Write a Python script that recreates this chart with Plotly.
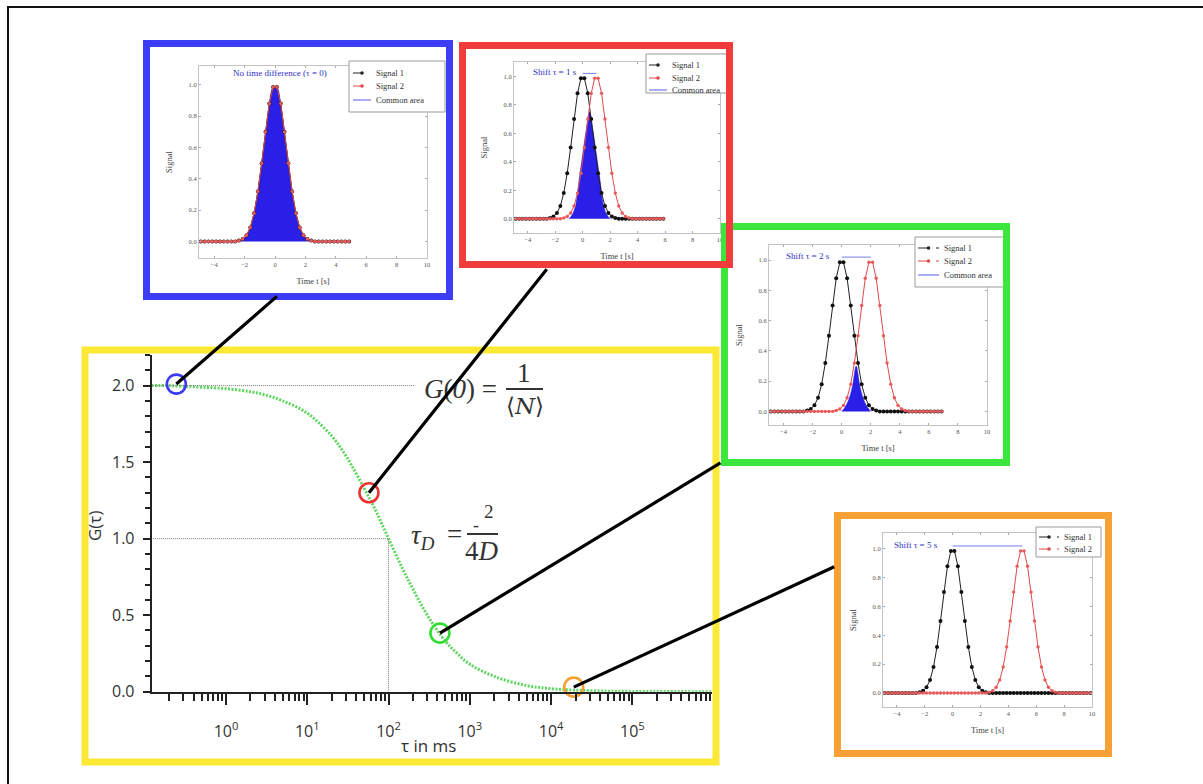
import math
import plotly.graph_objects as go

W, H = 1203, 784


def px(x):
    return x / W


def py(y):
    return 1 - y / H


# ---------------- main correlation curve ----------------
tau = [0.12, 0.2, 0.3, 0.5, 1, 2, 3, 5, 10, 20, 30, 50, 70, 100, 150, 200, 300,
       500, 700, 1000, 2000, 5000, 10000, 20000, 50000, 100000, 1000000]
g_tau = [2.0, 2.0, 1.995, 1.99, 1.98, 1.96, 1.94, 1.90, 1.82, 1.67, 1.54, 1.33,
         1.18, 1.0, 0.80, 0.67, 0.50, 0.33, 0.25, 0.18, 0.10, 0.04, 0.02, 0.01,
         0.004, 0.002, 0.0]

# highlighted points
pt_tau = [0.245, 57.4, 429, 19000]
pt_g = [2.01, 1.30, 0.383, 0.03]
pt_colors = ["#3b3bf2", "#ee3333", "#33dd33", "#f5a033"]

# reference lines
g0_value = 2.0
g0_line_end = 213
tau_d = 100
g_half = 1.0

major_tau = [1, 10, 100, 1000, 10000, 100000]
major_labels = ["10<sup>0</sup>", "10<sup>1</sup>", "10<sup>2</sup>",
                "10<sup>3</sup>", "10<sup>4</sup>", "10<sup>5</sup>"]
minor_tau = [m * 10 ** k for k in range(-1, 6) for m in range(2, 10)]

y_ticks = [0, 0.5, 1.0, 1.5, 2.0]
y_labels = ["0.0", "0.5", "1.0", "1.5", "2.0"]

# ---------------- inset signals ----------------
pulse_offset = [-2.375, -2.125, -1.875, -1.625, -1.375, -1.125, -0.875, -0.625,
                -0.375, -0.125, 0.125, 0.375, 0.625, 0.875, 1.125, 1.375, 1.625,
                1.875, 2.125, 2.375]
pulse_value = [0.006, 0.016, 0.04, 0.09, 0.18, 0.32, 0.50, 0.70, 0.88, 0.986,
               0.986, 0.88, 0.70, 0.50, 0.32, 0.18, 0.09, 0.04, 0.016, 0.006]

shifts = [0, 1, 2, 5]
t_start = -5.0
t_end = [5, 6, 7, 10]
sample_step = 0.25

common_t = [
    pulse_offset,
    [-1.0, -0.75, -0.5, -0.25, 0.0, 0.25, 0.5, 0.75, 1.0, 1.25, 1.5, 1.75, 2.0],
    [0.0, 0.25, 0.5, 0.75, 1.0, 1.25, 1.5, 1.75, 2.0],
    [],
]
common_v = [
    pulse_value,
    [0.0, 0.03, 0.10, 0.28, 0.45, 0.62, 0.75, 0.62, 0.45, 0.28, 0.10, 0.03, 0.0],
    [0.0, 0.03, 0.08, 0.17, 0.30, 0.17, 0.08, 0.03, 0.0],
    [],
]
inset_titles = ["No time difference (τ = 0)", "Shift τ = 1 s", "Shift τ = 2 s",
                "Shift τ = 5 s"]
title_pos = [(0.3, 1.077), (-2.0, 1.03), (-2.3, 1.03), (-2.6, 1.03)]
shift_line_y = 1.02

inset_x_ticks = [-4, -2, 0, 2, 4, 6, 8, 10]
inset_y_ticks = [0.0, 0.2, 0.4, 0.6, 0.8, 1.0]

legend_names = [["Signal 1", "Signal 2", "Common area"],
                ["Signal 1", "Signal 2", "Common area"],
                ["Signal 1", "Signal 2", "Common area"],
                ["Signal 1", "Signal 2"]]
legend_colors = ["#222", "#e04848", "#5a5ae6"]
legend_dash = ["dash", "dash", "solid"]

# layout geometry (pixels)
inset_boxes = [(199, 427, 66, 258), (514, 720, 62, 233), (769, 987, 245, 425),
               (883, 1092, 533, 707)]
inset_yrange = [(-0.105, 1.12), (-0.1, 1.1), (-0.09, 1.1), (-0.097, 1.11)]
frame_colors = ["#3d3df5", "#f23c3c", "#3ce63c", "#f7a035"]
frames = [(146.5, 449.5, 43.5, 296.5), (462.5, 729.5, 45.5, 264.5),
          (724.5, 1006.5, 226.5, 462.5), (837.5, 1108.5, 515.5, 753.5)]
legend_box = [(349, 445, 61, 112), (646, 731, 54, 93), (915, 1006, 237, 287),
              (1036, 1101, 527, 557)]
legend_rows = [[73, 86, 100], [65, 78, 90], [248, 261, 275], [537, 549]]
legend_sample = [(353, 371), (649, 667), (918, 939), (1039, 1059)]
arrow_offsets = [(102, -89), (179, -225), (282, -171), (262, -121)]

fig = go.Figure()

# main curve
fig.add_trace(go.Scatter(
    x=tau, y=g_tau, mode="lines", xaxis="x", yaxis="y", showlegend=False,
    line=dict(color="#5fd65f", width=3, dash="2px,1.5px", shape="spline"),
    hoverinfo="skip"))
# dotted guide lines
fig.add_trace(go.Scatter(
    x=[tau[0], g0_line_end], y=[g0_value, g0_value], mode="lines",
    xaxis="x", yaxis="y", showlegend=False,
    line=dict(color="#777", width=1, dash="1px,1px")))
fig.add_trace(go.Scatter(
    x=[tau[0], tau_d, tau_d], y=[g_half, g_half, 0], mode="lines",
    xaxis="x", yaxis="y", showlegend=False,
    line=dict(color="#777", width=1, dash="1px,1px")))
# highlight circles
fig.add_trace(go.Scatter(
    x=pt_tau, y=pt_g, mode="markers", xaxis="x", yaxis="y", showlegend=False,
    cliponaxis=False,
    marker=dict(symbol="circle-open", size=19, color=pt_colors,
                line=dict(width=2.6, color=pt_colors))))

for i, s in enumerate(shifts):
    xa = "x%d" % (i + 2)
    ya = "y%d" % (i + 2)
    lookup = {round(o, 3): v for o, v in zip(pulse_offset, pulse_value)}
    n = int(round((t_end[i] - t_start) / sample_step))
    t_grid = [t_start + sample_step / 2 + k * sample_step for k in range(n)]
    sig1 = [lookup.get(round(t, 3), 0.0) for t in t_grid]
    sig2 = [lookup.get(round(t - s, 3), 0.0) for t in t_grid]

    if common_t[i]:
        fig.add_trace(go.Scatter(
            x=common_t[i], y=common_v[i], name="Common area",
            mode="lines", fill="tozeroy", fillcolor="#2a1fe6",
            line=dict(color="#2a1fe6", width=0.5, shape="spline"),
            xaxis=xa, yaxis=ya, showlegend=False, hoverinfo="skip"))
    fig.add_trace(go.Scatter(
        x=t_grid, y=sig1, mode="lines+markers", name="Signal 1",
        xaxis=xa, yaxis=ya, showlegend=False,
        line=dict(color="#222", width=1),
        marker=dict(color="#111", size=4)))
    fig.add_trace(go.Scatter(
        x=t_grid, y=sig2, mode="lines+markers", name="Signal 2",
        xaxis=xa, yaxis=ya, showlegend=False,
        line=dict(color="#e04848", width=1),
        marker=dict(color="#e85a5a", size=3.4)))
    if s > 0:
        fig.add_trace(go.Scatter(
            x=[0, s], y=[shift_line_y, shift_line_y], mode="lines",
            xaxis=xa, yaxis=ya, showlegend=False, hoverinfo="skip",
            line=dict(color="#7a7af0", width=1)))

layout = dict(
    width=W, height=H, autosize=False, margin=dict(l=0, r=0, t=0, b=0, pad=0),
    paper_bgcolor="white", plot_bgcolor="white", showlegend=False,
    xaxis=dict(
        type="log", domain=[px(151.7), px(712)], range=[-0.914, 5.98],
        anchor="y", showline=True, linecolor="#222", linewidth=2,
        ticks="outside", ticklen=11, tickwidth=1.5, tickcolor="#222",
        tickmode="array", tickvals=major_tau, ticktext=major_labels,
        tickfont=dict(family="Open Sans", size=16, color="#333"),
        ticklabelstandoff=13, automargin=False,
        minor=dict(ticks="outside", ticklen=7, tickwidth=1.5, tickcolor="#222",
                   tickmode="array", tickvals=minor_tau, showgrid=False),
        showgrid=False, zeroline=False),
    yaxis=dict(
        domain=[py(691.7), py(355)], range=[0, 2.2], anchor="x",
        showline=True, linecolor="#222", linewidth=2,
        ticks="outside", ticklen=7, tickwidth=1.5, tickcolor="#222",
        tickmode="array", tickvals=y_ticks, ticktext=y_labels,
        tickfont=dict(family="Open Sans", size=16, color="#333"),
        ticklabelstandoff=5, automargin=False,
        minor=dict(ticks="outside", ticklen=5, tickwidth=1.5, tickcolor="#222",
                   dtick=0.1, showgrid=False),
        showgrid=False, zeroline=False),
)

for i in range(4):
    x0, x1, y0, y1 = inset_boxes[i]
    n = i + 2
    layout["xaxis%d" % n] = dict(
        domain=[px(x0), px(x1)], range=[-5, 10], anchor="y%d" % n,
        showline=True, linecolor="#c4c4c4", linewidth=1, mirror="allticks",
        ticks="inside", ticklen=2, tickcolor="#aaa",
        tickvals=inset_x_ticks, automargin=False,
        tickfont=dict(family="Liberation Serif", size=6.5, color="#555"),
        showgrid=False, zeroline=False,
        title=dict(text="Time t [s]", standoff=11,
                   font=dict(family="Liberation Serif", size=8.5, color="#444")))
    layout["yaxis%d" % n] = dict(
        domain=[py(y1), py(y0)], range=list(inset_yrange[i]), anchor="x%d" % n,
        showline=True, linecolor="#c4c4c4", linewidth=1, mirror="allticks",
        ticks="inside", ticklen=2, tickcolor="#aaa",
        tickvals=inset_y_ticks, tickformat=".1f", automargin=False,
        tickfont=dict(family="Liberation Serif", size=6.5, color="#555"),
        showgrid=False, zeroline=False,
        title=dict(text="Signal", standoff=14,
                   font=dict(family="Liberation Serif", size=8.5, color="#444")))

fig.update_layout(**layout)

# ---------------- shapes ----------------
shapes = []
ann = []
# outer border
shapes.append(dict(type="line", xref="paper", yref="paper", x0=px(8), x1=px(8),
                   y0=py(6.5), y1=0, line=dict(color="#111", width=2)))
shapes.append(dict(type="line", xref="paper", yref="paper", x0=px(7), x1=1,
                   y0=py(7), y1=py(7), line=dict(color="#111", width=2)))
# yellow frame
shapes.append(dict(type="rect", xref="paper", yref="paper", x0=px(85), x1=px(716),
                   y0=py(350), y1=py(762), line=dict(color="#fbe935", width=7)))

# hand-drawn inset legends (small, like the reference)
legend_font = dict(family="Liberation Serif", size=8.5, color="#333")
for i in range(4):
    bx0, bx1, by0, by1 = legend_box[i]
    shapes.append(dict(type="rect", xref="paper", yref="paper",
                       x0=px(bx0), x1=px(bx1), y0=py(by0), y1=py(by1),
                       fillcolor="white", line=dict(color="#999", width=1)))
    sx0, sx1 = legend_sample[i]
    for j, name in enumerate(legend_names[i]):
        ry = legend_rows[i][j]
        shapes.append(dict(type="line", xref="paper", yref="paper",
                           x0=px(sx0), x1=px(sx1), y0=py(ry), y1=py(ry),
                           line=dict(color=legend_colors[j], width=1,
                                     dash=legend_dash[j])))
        if j < 2:
            cx = (sx0 + sx1) / 2
            shapes.append(dict(type="circle", xref="paper", yref="paper",
                               x0=px(cx - 1.8), x1=px(cx + 1.8),
                               y0=py(ry - 1.8), y1=py(ry + 1.8),
                               fillcolor=legend_colors[j],
                               line=dict(color=legend_colors[j], width=0)))
        ann.append(dict(xref="paper", yref="paper", x=px(sx1 + 3), y=py(ry),
                        xanchor="left", yanchor="middle", text=name,
                        showarrow=False, font=legend_font))

order = [0, 2, 1, 3]
for i in order:
    x0, x1, y0, y1 = frames[i]
    shapes.append(dict(type="rect", xref="paper", yref="paper", x0=px(x0),
                       x1=px(x1), y0=py(y0), y1=py(y1),
                       line=dict(color=frame_colors[i], width=7)))
# fraction bars
shapes.append(dict(type="line", xref="paper", yref="paper", x0=px(506), x1=px(543),
                   y0=py(389), y1=py(389), line=dict(color="#333", width=2)))
shapes.append(dict(type="line", xref="paper", yref="paper", x0=px(467), x1=px(498),
                   y0=py(534), y1=py(534), line=dict(color="#333", width=2)))
fig.update_layout(shapes=shapes)

# ---------------- annotations ----------------
math_font = dict(family="Liberation Serif", size=27, color="#333")


def text_at(x, y, text, font, **kw):
    d = dict(xref="paper", yref="paper", x=px(x), y=py(y), text=text,
             showarrow=False, font=font, xanchor="center", yanchor="middle")
    d.update(kw)
    ann.append(d)


text_at(460, 389, "<i>G</i>(<i>0</i>) =", math_font)
text_at(524, 373, "1", math_font)
text_at(525, 406, "⟨<i>N</i>⟩", dict(family="DejaVu Serif", size=23, color="#333"))
text_at(423, 537, "<i>τ<sub>D</sub></i>", math_font)
text_at(454, 534, "=", math_font)
text_at(476, 525, "-", dict(family="Liberation Serif", size=18, color="#333"))
text_at(489, 511, "2", dict(family="Liberation Serif", size=19, color="#333"))
text_at(482, 551, "4<i>D</i>", math_font)
text_at(94, 526, "G(τ)", dict(family="Open Sans", size=17, color="#333"),
        textangle=-90)
text_at(428, 745, "τ in ms", dict(family="Open Sans", size=17, color="#333"))

for i in range(4):
    tx, ty = title_pos[i]
    ann.append(dict(xref="x%d" % (i + 2), yref="y%d" % (i + 2), x=tx, y=ty,
                    xanchor="center", yanchor="middle",
                    text=inset_titles[i], showarrow=False,
                    font=dict(family="Liberation Serif", size=9, color="#3030c8")))
for i in range(4):
    ax, ay = arrow_offsets[i]
    ann.append(dict(xref="x", yref="y", x=math.log10(pt_tau[i]), y=pt_g[i],
                    text="", showarrow=True, arrowhead=0, arrowwidth=3.2,
                    arrowcolor="#000", ax=ax, ay=ay, axref="pixel", ayref="pixel",
                    standoff=0, startstandoff=0))
fig.update_layout(annotations=ann)

fig.write_html(
    "out.html",
    config={"responsive": False, "displayModeBar": False},
    post_script="document.body.style.margin='0px';"
                "document.body.style.padding='0px';"
                "document.body.style.overflow='hidden';",
)
